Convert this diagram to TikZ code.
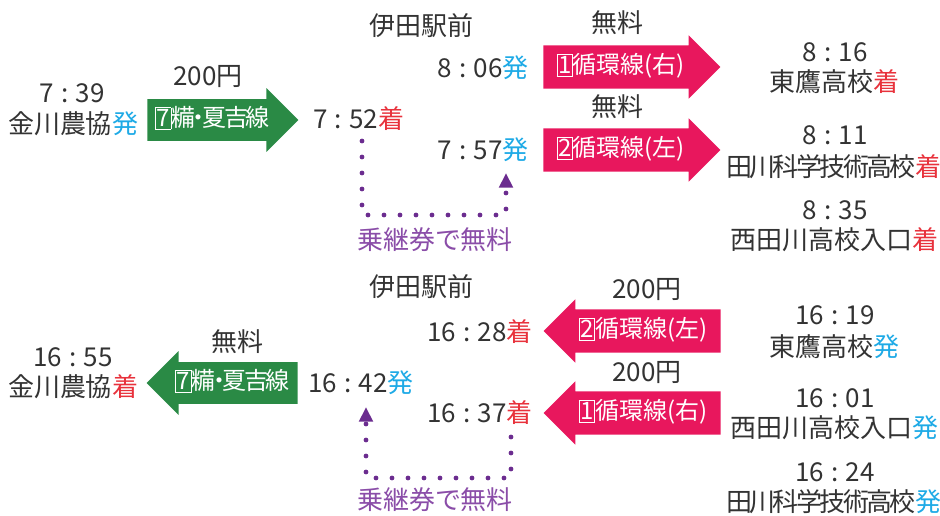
\documentclass[tikz,border=0pt]{standalone}
\usepackage{fontspec}
\setmainfont{Noto Sans CJK JP}[RawFeature=+palt]
\newfontfamily\narrowjp{Noto Sans CJK JP}[RawFeature=+palt,LetterSpace=-10]
\usetikzlibrary{shapes.arrows,arrows.meta}

\definecolor{ink}{HTML}{333333}
\definecolor{depc}{HTML}{1EAAE6}
\definecolor{arrc}{HTML}{E8323C}
\definecolor{jrg}{HTML}{2A8A45}
\definecolor{loop}{HTML}{E8175D}
\definecolor{purp}{HTML}{6B2C8F}
\definecolor{purt}{HTML}{8A4DA8}

\newcommand\hm[2]{#1\kern0.28em:\kern0.28em#2}
\newcommand\dep{\textcolor{depc}{発}}
\newcommand\arr{\textcolor{arrc}{着}}
\newcommand\bnum[1]{{\setlength\fboxsep{0.6pt}\setlength\fboxrule{0.5pt}\fbox{\makebox[0.55em]{\rule[-0.06em]{0pt}{0.8em}#1}}}}

\begin{document}
\begin{tikzpicture}[x=0.75pt,y=-0.75pt,
  every node/.style={inner sep=0pt,text=ink,font=\fontsize{19.5}{23}\selectfont},
  line/.style={single arrow,single arrow tip angle=90,anchor=tail,inner xsep=4pt,
    text=white,font=\fontsize{18}{22}\selectfont,text height=14pt,text depth=4pt},
  green/.style={line,fill=jrg,minimum height=113.25pt,single arrow head extend=8.25pt,inner ysep=6.4pt,
    font=\fontsize{18}{22}\selectfont\narrowjp},
  pink/.style={line,fill=loop,minimum height=132.75pt,single arrow head extend=7.5pt,inner ysep=7.1pt},
  long/.style={font=\fontsize{19.5}{23}\selectfont\narrowjp},
  free/.style={text=purt},
  xfer/.style={draw=purp,line width=3.6pt,line cap=round,dash pattern=on 0pt off 12pt,
    -{Triangle[width=10pt,length=11pt]}}]
\useasboundingbox (0,0) rectangle (940,516);

% --- morning: to school
\node (t739) at (72,93) {\hm{7}{39}};
\node (kn_d) at (73,124) {金川農協\dep};
\node (f_1) at (208,77) {200円};
\node[green] (g_1) at (147,120) {\bnum{7}糒・夏吉線};
\node[anchor=west] (a752) at (313,119) {\hm{7}{52}\arr};
\node (ida_1) at (421,26) {伊田駅前};
\node[anchor=east] (d806) at (529,68) {\hm{8}{06}\dep};
\node[anchor=east] (d757) at (529,150) {\hm{7}{57}\dep};
\node (f_2) at (617,23) {無料};
\node[pink] (p_1) at (543,67) {\bnum{1}循環線(右)};
\node (f_3) at (617,107) {無料};
\node[pink] (p_2) at (543,150) {\bnum{2}循環線(左)};
\node (t816) at (835,52) {\hm{8}{16}};
\node (ht_a) at (834,82) {東鷹高校\arr};
\node (t811) at (835,135) {\hm{8}{11}};
\node[long] (tk_a) at (834,167) {田川科学技術高校\arr};
\node (t835) at (835,210) {\hm{8}{35}};
\node (nt_a) at (834,240) {西田川高校入口\arr};
\node[free] (n_1) at (435,240) {乗継券で無料};
\coordinate (c_1) at (362,141);
\coordinate (c_2) at (362,215);
\coordinate (c_3) at (506,215);
\coordinate (c_4) at (506,173);
\draw[xfer] (c_1) -- (c_2) -- (c_3) -- (c_4);

% --- afternoon: back home
\node (ida_2) at (421,287) {伊田駅前};
\node (t1655) at (73,357) {\hm{16}{55}};
\node (kn_a) at (73,387) {金川農協\arr};
\node (f_4) at (237,342) {無料};
\node[green,shape border rotate=180] (g_2) at (298,383) {\bnum{7}糒・夏吉線};
\node[anchor=west] (d1642) at (308,383) {\hm{16}{42}\dep};
\node[anchor=east] (a1628) at (533,332) {\hm{16}{28}\arr};
\node[anchor=east] (a1637) at (533,413) {\hm{16}{37}\arr};
\node (f_5) at (647,290) {200円};
\node[pink,shape border rotate=180] (p_3) at (721,331) {\bnum{2}循環線(左)};
\node (f_6) at (647,373) {200円};
\node[pink,shape border rotate=180] (p_4) at (721,413) {\bnum{1}循環線(右)};
\node (t1619) at (835,315) {\hm{16}{19}};
\node (ht_d) at (834,347) {東鷹高校\dep};
\node (t1601) at (835,398) {\hm{16}{01}};
\node (nt_d) at (834,428) {西田川高校入口\dep};
\node (t1624) at (835,472) {\hm{16}{24}};
\node[long] (tk_d) at (834,502) {田川科学技術高校\dep};
\node[free] (n_2) at (435,500) {乗継券で無料};
\coordinate (c_5) at (511,437);
\coordinate (c_6) at (511,478);
\coordinate (c_7) at (366,478);
\coordinate (c_8) at (366,407);
\draw[xfer] (c_5) -- (c_6) -- (c_7) -- (c_8);
\end{tikzpicture}
\end{document}
